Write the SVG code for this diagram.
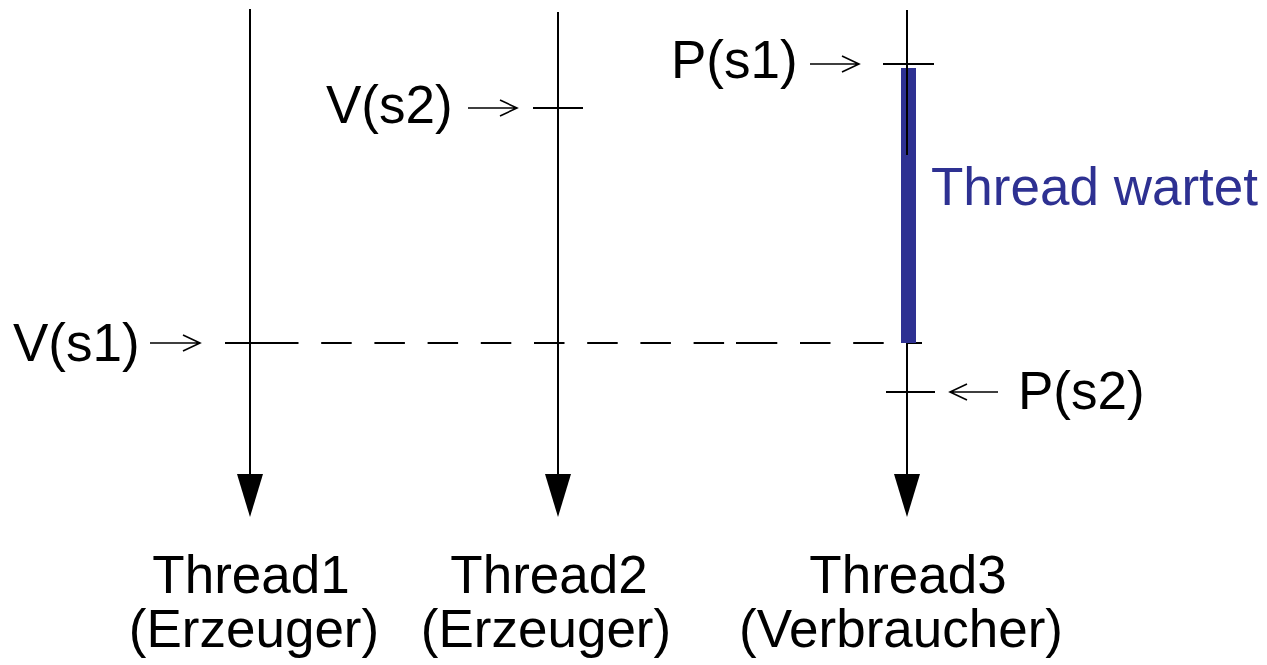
<svg xmlns="http://www.w3.org/2000/svg" width="1267" height="665" viewBox="0 0 1267 665">
<style>
.ln{stroke:#000;stroke-width:2;fill:none}
.sm{stroke:#000;stroke-width:1.6;fill:none}
.tx{font-family:"Liberation Sans",Arial,sans-serif;font-size:53px;fill:#000}
.bl{fill:#2E3192}
</style>
<rect width="1267" height="665" fill="#fff"/>
<g id="connectors">
<line class="ln" x1="250" y1="9" x2="250" y2="476"/>
<polygon points="237,474 263,474 250,517" fill="#000"/>
<line class="ln" x1="558" y1="12" x2="558" y2="476"/>
<polygon points="545,474 571,474 558,517" fill="#000"/>
<line class="ln" x1="907" y1="10" x2="907" y2="155"/>
<line class="ln" x1="907" y1="343" x2="907" y2="476"/>
<polygon points="894,474 920,474 907,517" fill="#000"/>
<line class="ln" x1="268" y1="343" x2="922" y2="343" stroke-dasharray="30.5 22.7"/>
<line class="ln" x1="225" y1="343" x2="272" y2="343"/>
<line class="ln" x1="736" y1="343" x2="777" y2="343"/>
</g>
<g id="thread1-label"><text class="tx" x="251" y="593" text-anchor="middle">Thread1</text><text class="tx" x="254" y="647" text-anchor="middle">(Erzeuger)</text></g>
<g id="thread2-label"><text class="tx" x="549" y="593" text-anchor="middle">Thread2</text><text class="tx" x="546" y="647" text-anchor="middle">(Erzeuger)</text></g>
<g id="thread3-label"><text class="tx" x="908" y="593" text-anchor="middle">Thread3</text><text class="tx" x="901" y="647" text-anchor="middle">(Verbraucher)</text></g>
<g id="wait-bar"><rect class="bl" x="901" y="68" width="15" height="275"/><line class="ln" x1="907" y1="68" x2="907" y2="155"/><text class="tx" x="931" y="205" style="fill:#2E3192">Thread wartet</text></g>
<g id="p-s1"><line class="ln" x1="883" y1="64" x2="934" y2="64"/><path class="sm" d="M810,64 H859 M842,56 L859,64 L842,72"/><text class="tx" x="671" y="78">P(s1)</text></g>
<g id="v-s2"><line class="ln" x1="533" y1="108" x2="583" y2="108"/><path class="sm" d="M468,108 H517 M500,100 L517,108 L500,116"/><text class="tx" x="326" y="123">V(s2)</text></g>
<g id="v-s1"><path class="sm" d="M150,343 H200 M183,335 L200,343 L183,351"/><text class="tx" x="13" y="361">V(s1)</text></g>
<g id="p-s2"><line class="ln" x1="886" y1="392" x2="935" y2="392"/><path class="sm" d="M998,392 H950 M967,384 L950,392 L967,400"/><text class="tx" x="1018" y="409">P(s2)</text></g>
</svg>
